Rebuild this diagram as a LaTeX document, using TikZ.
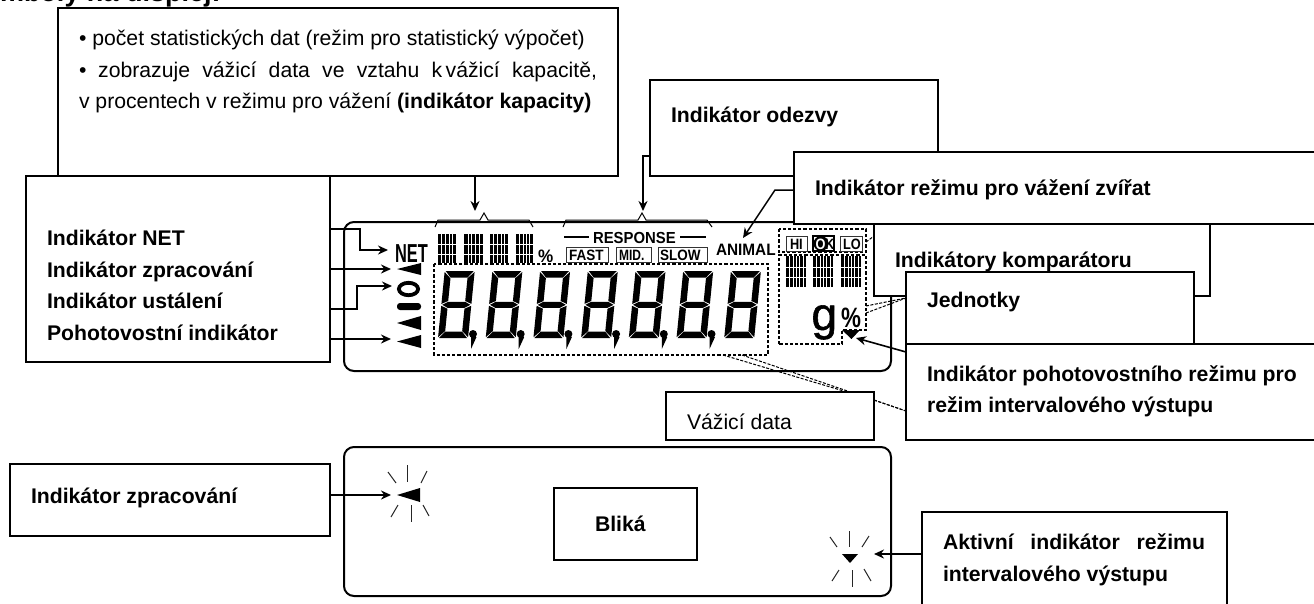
\documentclass[tikz,border=0pt]{standalone}
\usepackage{fontspec}
\setmainfont{Liberation Sans}
\usetikzlibrary{arrows.meta}
\newcommand\fs[1]{\fontsize{#1}{#1}\selectfont}
\tikzset{
  infobox/.style={draw=black,fill=white,line width=1.8pt,inner sep=0pt,outer sep=0pt},
  lbl/.style={inner sep=0pt,outer sep=0pt,anchor=base west,font=\fs{21.2}\bfseries},
  lblr/.style={inner sep=0pt,outer sep=0pt,anchor=base west,font=\fs{21.2}},
  lcdtxt/.style={inner sep=0pt,outer sep=0pt,anchor=base west},
  lcdframe/.style={draw=black,line width=2pt,rounded corners=10pt},
  conn/.style={draw=black,line width=2pt,-{Stealth[length=10pt,width=9pt]}},
  leader/.style={draw=black,line width=1pt,dash pattern=on 3pt off 1.5pt},
  dashframe/.style={draw=black,line width=1.5pt,dash pattern=on 3.2pt off 2pt},
  ray/.style={draw=black!85,line width=1pt},
  brace/.style={draw=black,line width=1pt},
  minibox/.style={draw=black!80,line width=1pt,fill=white}
}
\newcommand\boxnode[5]{\node[infobox,minimum width={(#4-#2)*1pt},minimum height={(#5-#3)*1pt}] (#1) at ({(#2+#4)/2},{(#3+#5)/2}) {};}
\newcommand\lcddigit[1]{%
  \begin{scope}[shift={(#1,338)},x={(1pt,0pt)},y={(0.1pt,1pt)}]
    \fill (1,67) -- (29,67) -- (23.5,60.5) -- (6.5,60.5) -- cycle;
    \fill (0,66) -- (6.5,59.7) -- (6.5,37) -- (0,34.1) -- cycle;
    \fill (30,66) -- (23.5,59.7) -- (23.5,37) -- (30,34.1) -- cycle;
    \fill (1,33.2) -- (6.5,36.2) -- (23.5,36.2) -- (29,33.2) -- (23.5,30.2) -- (6.5,30.2) -- cycle;
    \fill (0,32.2) -- (6.5,29.3) -- (6.5,7) -- (0,0.8) -- cycle;
    \fill (30,32.2) -- (23.5,29.3) -- (23.5,7) -- (30,0.8) -- cycle;
    \fill (1,0) -- (29,0) -- (23.5,6.3) -- (6.5,6.3) -- cycle;
  \end{scope}}
\newcommand\lcdcomma[1]{%
  \fill ({#1+35},334) circle (4pt);
  \fill ({#1+33},337) -- ({#1+38.5},337) -- ({#1+33},349) -- cycle;}
\newcommand\barblock[5]{% x1 y1 x2 y2 nvertical
  \fill[black] (#1,#2) rectangle (#3,#4);
  \foreach \k in {1,...,#5} {\draw[white,line width=.35pt] ({#1+(#3-#1)*\k/(#5+1)},#2) -- ({#1+(#3-#1)*\k/(#5+1)},#4);}
  \draw[white,line width=.35pt] (#1,{#2+(#4-#2)*.35}) -- (#3,{#2+(#4-#2)*.35});
  \draw[white,line width=.35pt] (#1,{#2+(#4-#2)*.68}) -- (#3,{#2+(#4-#2)*.68});}
\begin{document}
\begin{tikzpicture}[x=1pt,y=-1pt]
\useasboundingbox (0,0) rectangle (1314,603);
\clip (0,0) rectangle (1314,603);
% heading (cut by the page edge)
\node[lcdtxt,font=\fs{27}\bfseries] (head) at (0,1) {mboly na displej:};
% upper display
\draw[lcdframe] (344,222) rectangle (891,371);
\foreach \d in {438,485.7,533.4,581.1,628.8,676.5,724.2} {\lcddigit{\d}}
\foreach \d in {438,485.7,533.4,581.1,628.8,676.5} {\lcdcomma{\d}}
\draw[dashframe] (434,264) rectangle (768,355);
\draw[dashframe] (779,229) rectangle (866,252);
\draw[dashframe] (779,344) -- (779,255) -- (866,255) -- (866,330) -- (842,330) -- (842,344) -- cycle;
% capacity bar
\barblock{438}{234}{456}{263}{4}
\barblock{464}{234}{483}{263}{4}
\barblock{490}{234}{508}{263}{4}
\barblock{516}{234}{533}{263}{4}
\node[lcdtxt,font=\fs{18}\bfseries] (pct) at (538,262) {\scalebox{.95}[1]{\%}};
\draw[brace] (435,227) -- (438,220) -- (480,220) -- (484,213) -- (488,220) -- (529,220) -- (533,227);
\draw[brace] (563,227) -- (566,220) -- (638,220) -- (642,213) -- (646,220) -- (707,220) -- (712,227);
% response
\node[lcdtxt,font=\fs{16}\bfseries] (resp) at (593,243.5) {\scalebox{.93}[1]{RESPONSE}};
\draw[line width=1.6pt] (564,237) -- (589,237);
\draw[line width=1.6pt] (680,237) -- (706,237);
\draw[minibox] (566,247) rectangle (608,262);
\draw[minibox] (616,247) rectangle (651,262);
\draw[minibox] (658,247) rectangle (707,262);
\node[lcdtxt,font=\fs{15}\bfseries] (fast) at (569,260) {\scalebox{.9}[1]{FAST}};
\node[lcdtxt,font=\fs{15}\bfseries] (mid) at (619,260) {\scalebox{.8}[1]{MID.}};
\node[lcdtxt,font=\fs{15}\bfseries] (slow) at (660,260) {\scalebox{.9}[1]{SLOW}};
\node[lcdtxt,font=\fs{16.5}\bfseries] (animal) at (716,255.5) {\scalebox{.93}[1]{ANIMAL}};
% NET and left symbols
\node[lcdtxt,font=\fs{26}\bfseries] (net) at (395,262) {\scalebox{.63}[1]{NET}};
\fill (397,269) -- (421,263) -- (421,275) -- cycle;
\draw[line width=3.8pt] (408.5,289) ellipse (9.6pt and 6.2pt);
\fill[rounded corners=3pt] (397,303) rectangle (421,310);
\fill (397,323) -- (421,316) -- (421,330) -- cycle;
\fill (397,341.5) -- (421,335) -- (421,348) -- cycle;
% comparator symbols
\draw[minibox] (786,236) rectangle (807,251);
\draw[line width=1.2pt,fill=white] (813,236) rectangle (834,251);
\fill (821,243.5) circle (7.5pt);
\draw[minibox] (840,236) rectangle (862,251);
\node[lcdtxt,font=\fs{15}\bfseries] (hi) at (790,249) {\scalebox{.85}[1]{HI}};
\node[lcdtxt,font=\fs{15}\bfseries,text=white] (oko) at (815.5,249) {\scalebox{.85}[1]{O}};
\node[lcdtxt,font=\fs{15}\bfseries] (okk) at (825,249) {\scalebox{.85}[1]{K}};
\node[lcdtxt,font=\fs{15}\bfseries] (lo) at (843,249) {\scalebox{.85}[1]{LO}};
\barblock{786}{256}{806}{287}{5}
\barblock{813}{256}{833}{287}{5}
\barblock{841}{256}{861}{287}{5}
% units
\node[lcdtxt,font=\fs{46}\addfontfeature{FakeBold=1.2}] (gram) at (811.5,330) {g};
\node[lcdtxt,font=\fs{28}\bfseries] (upct) at (841,327) {\scalebox{.8}[1]{\%}};
\fill (842,330) -- (860,330) -- (851.5,339) -- cycle;
% leaders
\draw[leader] (723,355) -- (847,392);
\draw[leader] (742,355) -- (906,411);
\draw[leader] (866,306) -- (906,298);
\draw[leader] (866,313) -- (906,298);
\draw[leader] (866,242) -- (874,236);
% lower display
\draw[lcdframe] (344,447) rectangle (891,596);
\fill (397,495) -- (420,488) -- (420,502) -- cycle;
\draw[ray] (407,465) -- (407,482);
\draw[ray] (388,472) -- (396,483);
\draw[ray] (427,471) -- (421,483);
\draw[ray] (398,505) -- (391,517);
\draw[ray] (411,505) -- (411,522);
\draw[ray] (423,505) -- (429,516);
\fill (842,554) -- (858,554) -- (850,563) -- cycle;
\draw[ray] (849,531) -- (849,547);
\draw[ray] (830,537) -- (837,547);
\draw[ray] (869,536) -- (862,547);
\draw[ray] (839,570) -- (832,581);
\draw[ray] (852,570) -- (852,587);
\draw[ray] (864,569) -- (871,581);
% boxes
\boxnode{top}{58}{8}{618}{176}
\boxnode{odezvy}{650}{80}{938}{176}
\boxnode{left}{26}{176}{330}{362}
\boxnode{animalbox}{794}{152}{1330}{224}
\boxnode{kompar}{874}{224}{1210}{296}
\boxnode{jedn}{906}{272}{1194}{344}
\boxnode{poho}{906}{344}{1330}{440}
\boxnode{vazici}{666}{392}{874}{440}
\boxnode{zprac}{10}{464}{330}{536}
\boxnode{blika}{554}{488}{697}{560}
\boxnode{aktiv}{922}{512}{1227}{620}
% texts
\node[lblr] (t1) at (79,45) {• počet statistických dat (režim pro statistický výpočet)};
\node[lblr] (t2) at (79,77) {\makebox[518pt][s]{• \ zobrazuje\hfil vážicí\hfil data\hfil ve\hfil vztahu\hfil k\,vážicí\hfil kapacitě,}};
\node[lblr] (t3) at (79,108) {v procentech v režimu pro vážení \textbf{(indikátor kapacity)}};
\node[lbl] (t4) at (671,122) {Indikátor odezvy};
\node[lbl] (t5) at (47,245) {Indikátor NET};
\node[lbl] (t6) at (47,277) {Indikátor zpracování};
\node[lbl] (t7) at (47,308) {Indikátor ustálení};
\node[lbl] (t8) at (47,340) {Pohotovostní indikátor};
\node[lbl] (t9) at (815,195) {Indikátor režimu pro vážení zvířat};
\node[lbl] (t10) at (895,267) {Indikátory komparátoru};
\node[lbl] (t11) at (927,307) {Jednotky};
\node[lbl] (t12) at (927,381) {Indikátor pohotovostního režimu pro};
\node[lbl] (t13) at (927,412) {režim intervalového výstupu};
\node[lblr] (t14) at (687,429) {Vážicí data};
\node[lbl] (t15) at (31,503) {Indikátor zpracování};
\node[lbl] (t16) at (595,531) {Bliká};
\node[lbl] (t17) at (943,549) {\makebox[262pt][s]{Aktivní\hfil indikátor\hfil režimu}};
\node[lbl] (t18) at (943,581) {intervalového výstupu};
% arrow targets
\coordinate (aCap) at (475,211);
\coordinate (aRespA) at (643,156);
\coordinate (aResp) at (643,211);
\coordinate (aAnimK) at (775,190);
\coordinate (aAnim) at (743,238);
\coordinate (aNetK) at (360,229);
\coordinate (aNetL) at (360,250);
\coordinate (aNet) at (388,250);
\coordinate (aProc) at (391,269);
\coordinate (aStabK) at (357,309);
\coordinate (aStabL) at (357,286);
\coordinate (aStab) at (392,286);
\coordinate (aStby) at (391,339);
\coordinate (aHold) at (856,338);
\coordinate (aHoldS) at (906,352);
\coordinate (aZpr) at (391,495);
\coordinate (aAkt) at (874,554);
% connectors
\draw[conn] (top.south -| aCap) -- (aCap);
\draw[conn] (odezvy.west |- aRespA) -- (aRespA) -- (aResp);
\draw[conn,line width=1.5pt] (animalbox.west |- aAnimK) -- (aAnimK) -- (aAnim);
\draw[conn] (left.east |- aNetK) -- (aNetK) -- (aNetL) -- (aNet);
\draw[conn] (left.east |- aProc) -- (aProc);
\draw[conn] (left.east |- aStabK) -- (aStabK) -- (aStabL) -- (aStab);
\draw[conn] (left.east |- aStby) -- (aStby);
\draw[conn,line width=1.6pt] (aHoldS) -- (aHold);
\draw[conn] (zprac.east |- aZpr) -- (aZpr);
\draw[conn] (aktiv.west |- aAkt) -- (aAkt);
% leader from data box to lower-right box
\draw[leader] (vazici.east |- 0,400) -- (poho.west |- 0,411);
\end{tikzpicture}
\end{document}
